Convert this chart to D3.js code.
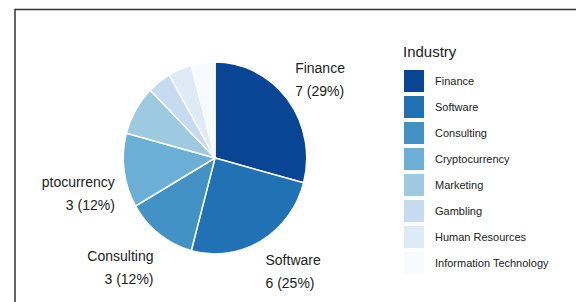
<!DOCTYPE html>
<html>
<head>
<meta charset="utf-8">
<script src="https://cdn.jsdelivr.net/npm/d3@7"></script>
<style>
  body { margin: 0; background: #fff; }
  svg { display: block; font-family: "Liberation Sans", Arial, sans-serif; }
</style>
</head>
<body>
<div id="chart"></div>
<script>
// industries and counts
const industries = ['Finance', 'Software', 'Consulting', 'Cryptocurrency', 'Marketing', 'Gambling', 'Human Resources', 'Information Technology'];
const counts = [7, 6, 3, 3, 2, 1, 1, 1];
// only these slices carry a label
const labelled = ['Finance', 'Software', 'Consulting', 'Cryptocurrency'];

const width = 576;
const height = 302;
const cx = 215;
const cy = 158;
const radius = 96;
const squeeze = 0.955; // picture is a little taller than wide

const data = industries.map((d, i) => ({ name: d, value: counts[i] }));
const total = d3.sum(counts);

const svg = d3.select('#chart')
    .append('svg')
    .attr('width', width)
    .attr('height', height);

// frame, runs off the right and bottom edge
svg.append('rect')
    .attr('x', 15)
    .attr('y', 9.5)
    .attr('width', 700)
    .attr('height', 400)
    .attr('fill', 'none')
    .attr('stroke', '#333')
    .attr('stroke-width', 1.5);

const color = d3.scaleOrdinal()
    .domain(industries)
    .range(d3.schemeBlues[8].slice().reverse());

const pie = d3.pie().sort(null).value(d => d.value);
const arc = d3.arc().innerRadius(0).outerRadius(radius);
const arcs = pie(data);

svg.append('g')
    .attr('transform', 'translate(' + cx + ',' + cy + ') scale(' + squeeze + ',1)')
    .selectAll('path')
    .data(arcs)
    .enter()
    .append('path')
    .attr('d', arc)
    .attr('fill', d => color(d.data.name))
    .attr('stroke', '#fff')
    .attr('stroke-width', 1.5);

// labels, the long one on the left gets cut off
svg.append('defs')
    .append('clipPath')
    .attr('id', 'labelclip')
    .append('rect')
    .attr('x', 42)
    .attr('y', 0)
    .attr('width', width)
    .attr('height', height);

const labelG = svg.append('g').attr('clip-path', 'url(#labelclip)');
const labelRx = 101;
const labelRy = 130;
const pct = d3.format('.0%');

arcs.filter(d => labelled.includes(d.data.name)).forEach(d => {
    const a = (d.startAngle + d.endAngle) / 2;
    const s = Math.sin(a);
    const right = s >= 0;
    const x = cx + labelRx * s;
    // left side labels sit a bit lower
    const y = cy - labelRy * Math.cos(a) + (right ? 0 : 30 * (Math.abs(s) - 0.4));
    const p = Math.floor(d.data.value / total * 100) / 100;
    const t = labelG.append('text')
        .attr('text-anchor', right ? 'start' : 'end')
        .attr('font-size', 14)
        .attr('fill', '#222');
    t.append('tspan').attr('x', x).attr('y', y - 6).text(d.data.name);
    t.append('tspan').attr('x', x).attr('y', y + 17).text(d.data.value + ' (' + pct(p) + ')');
});

// legend
const legend = svg.append('g').attr('id', 'legend');

legend.append('text')
    .text('Industry')
    .attr('x', 403)
    .attr('y', 57)
    .attr('font-size', 15)
    .attr('fill', '#222');

const rows = legend.selectAll('g.row')
    .data(industries)
    .enter()
    .append('g')
    .attr('class', 'row')
    .attr('transform', (d, i) => 'translate(404,' + (70 + i * 26) + ')');

rows.append('rect')
    .attr('width', 20)
    .attr('height', 22)
    .attr('fill', d => color(d));

rows.append('text')
    .text(d => d)
    .attr('x', 31)
    .attr('y', 15)
    .attr('font-size', 11)
    .attr('fill', '#222');
</script>
</body>
</html>
